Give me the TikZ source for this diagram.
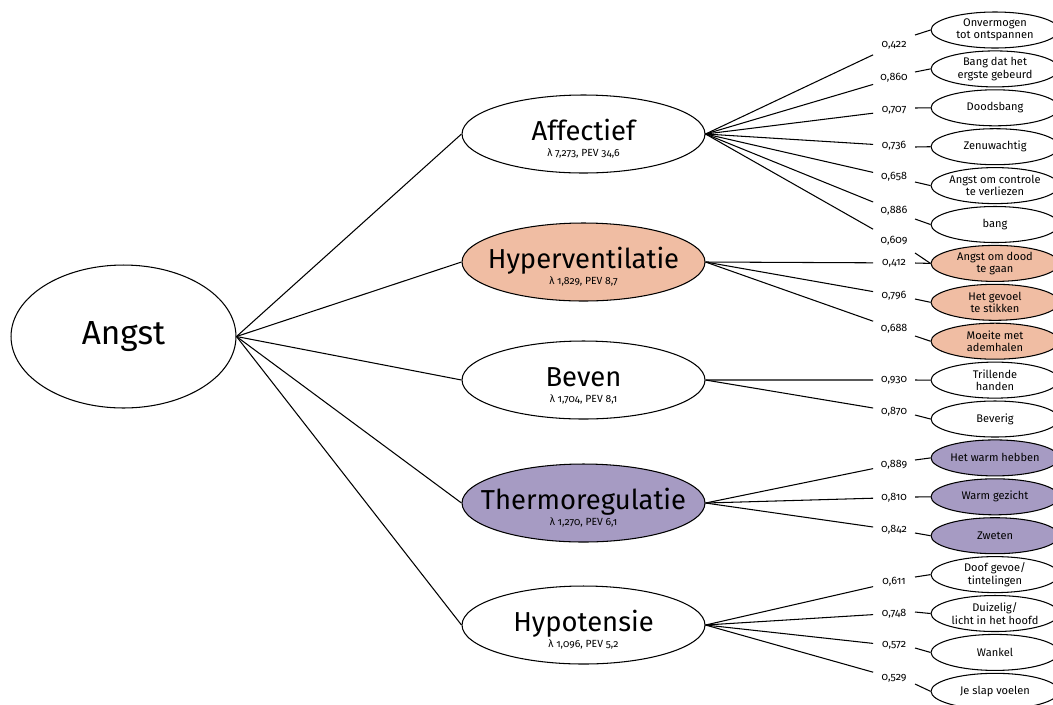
\documentclass[tikz,border=0pt]{standalone}
\usepackage{fontspec}
\setmainfont{Fira Sans}[Numbers=OldStyle]
\usetikzlibrary{shapes.geometric,calc}
\definecolor{hypfill}{HTML}{F0BDA3}
\definecolor{thermofill}{HTML}{A69BC3}

\begin{document}
\begin{tikzpicture}[x=0.02cm,y=-0.02cm,line width=0.6pt,
  factor/.style={ellipse,draw,inner sep=0pt,minimum width=4.86cm,minimum height=1.56cm},
  item/.style={ellipse,draw,inner sep=0pt,minimum width=2.56cm,minimum height=0.72cm},
  itemtext/.style={align=center,font=\fontsize{6.3}{7}\selectfont,inner sep=0pt},
  factorname/.style={anchor=base,font=\fontsize{15.6}{16}\selectfont,inner sep=0pt},
  factorstat/.style={anchor=base,font=\fontsize{5.9}{7}\selectfont,inner sep=0pt},
  loading/.style={font=\fontsize{6.1}{7}\selectfont,inner sep=0pt}]
  \useasboundingbox (0,0) rectangle (1053,704);
  \clip (0,0) rectangle (1053,704);

  % Root factor
  \node[ellipse,draw,inner sep=0pt,minimum width=4.5cm,minimum height=2.86cm,
    font=\fontsize{19}{19}\selectfont] (angst) at (123.5,336.5) {Angst};

  % Subfactors
  \foreach \f/\y/\col/\name/\stat in {
      aff/134/white/Affectief/{7,273, PEV 34,6},
      hyp/262/hypfill/Hyperventilatie/{1,829, PEV 8,7},
      bev/380/white/Beven/{1,704, PEV 8,1},
      the/503/thermofill/Thermoregulatie/{1,270, PEV 6,1},
      hpt/625/white/Hypotensie/{1,096, PEV 5,2}} {
    \node[factor,fill=\col] (\f) at (583.5,\y) {};
    \node[factorname] (\f-name) at ($(\f)+(0,6)$) {\name};
    \node[factorstat] (\f-stat) at ($(\f)+(0,22)$) {λ \stat};
    \draw (angst.east) -- (\f.west);
  }

  % Items
  \foreach \i/\col/\txt in {
      1/white/{Onvermogen\\tot ontspannen},
      2/white/{Bang dat het\\ergste gebeurd},
      3/white/{Doodsbang},
      4/white/{Zenuwachtig},
      5/white/{Angst om controle\\te verliezen},
      6/white/{bang},
      7/hypfill/{Angst om dood\\te gaan},
      8/hypfill/{Het gevoel\\te stikken},
      9/hypfill/{Moeite met\\ademhalen},
      10/white/{Trillende\\handen},
      11/white/{Beverig},
      12/thermofill/{Het warm hebben},
      13/thermofill/{Warm gezicht},
      14/thermofill/{Zweten},
      15/white/{Doof gevoe/\\tintelingen},
      16/white/{Duizelig/\\licht in het hoofd},
      17/white/{Wankel},
      18/white/{Je slap voelen}} {
    \node[item,fill=\col] (i\i) at (995,{30+38.9*(\i-1)}) {};
    \node[itemtext] (i\i-t) at (i\i) {\txt};
  }

  % Loadings
  \foreach \f/\i/\py/\lab [count=\n] in {
      aff/1/35/{0,422}, aff/2/72/{0,860}, aff/3/108/{0,707},
      aff/4/147/{0,736}, aff/5/182/{0,658}, aff/6/219/{0,886},
      aff/7/253/{0,609},
      hyp/7/263/{0,412}, hyp/8/299/{0,796}, hyp/9/336/{0,688},
      bev/10/380/{0,930}, bev/11/415/{0,870},
      the/12/460/{0,889}, the/13/497/{0,810}, the/14/533/{0,842},
      hpt/15/577/{0,611}, hpt/16/612/{0,748}, hpt/17/648/{0,572},
      hpt/18/684/{0,529}} {
    \coordinate (p\n) at (915,\py);
    \draw (\f.east) -- ($(\f.east)!0.8!(p\n)$);
    \draw (p\n) -- (i\i.west);
    \node[loading] (l\n) at ($(\f.east)!0.9!(p\n)$) {\lab};
  }
\end{tikzpicture}
\end{document}
